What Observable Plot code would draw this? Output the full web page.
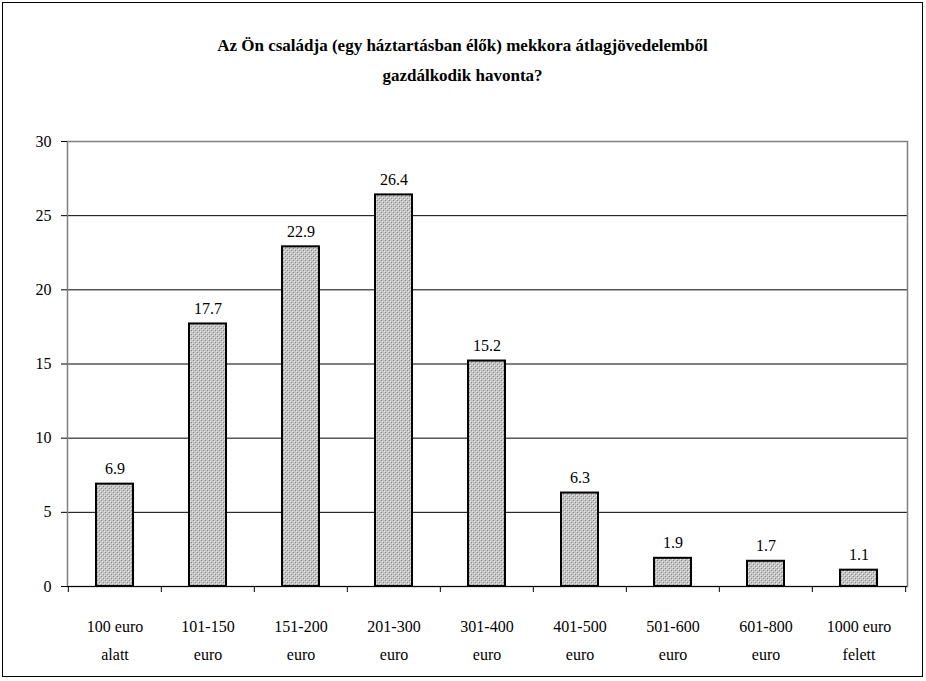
<!DOCTYPE html>
<html>
<head>
<meta charset="utf-8">
<script src="https://cdn.jsdelivr.net/npm/d3@7"></script>
<script src="https://cdn.jsdelivr.net/npm/@observablehq/plot@0.6"></script>
</head>
<body style="margin:0;padding:0;background:#fff;font-family:'Liberation Serif'">
<div id="frame" style="position:absolute;left:2px;top:2px;width:919px;height:673px;border:1px solid #000;font-family:'Liberation Serif'">
  <div id="title" style="position:absolute;left:0;top:28px;width:919px;text-align:center;font-weight:bold;font-size:17px;line-height:30px;font-family:'Liberation Serif'">Az Ön családja (egy háztartásban élők) mekkora átlagjövedelemből<br>gazdálkodik havonta?</div>
  <div id="chart" style="position:absolute;left:0;top:107px"></div>
</div>
<script>
const categories = ["100 euro alatt", "101-150 euro", "151-200 euro", "201-300 euro", "301-400 euro", "401-500 euro", "501-600 euro", "601-800 euro", "1000 euro felett"];
const tickLabels = ["100 euro\nalatt", "101-150\neuro", "151-200\neuro", "201-300\neuro", "301-400\neuro", "401-500\neuro", "501-600\neuro", "601-800\neuro", "1000 euro\nfelett"];
const values = [6.9, 17.7, 22.9, 26.4, 15.2, 6.3, 1.9, 1.7, 1.1];
const yTicks = [0, 5, 10, 15, 20, 25, 30];

const data = categories.map((c, i) => ({category: c, value: values[i], label: tickLabels[i]}));
const labelOf = new Map(data.map(d => [d.category, d.label]));

const W = 919, H = 566;
const mL = 64, mR = 15, mT = 31, mB = 90;
const step = (W - mL - mR) / categories.length;
const serif = "Liberation Serif";

const chart = Plot.plot({
  width: W,
  height: H,
  marginLeft: mL,
  marginRight: mR,
  marginTop: mT,
  marginBottom: mB,
  style: {fontFamily: serif, fontSize: "16px", background: "transparent", color: "#000"},
  x: {type: "band", domain: categories, paddingInner: 0.6, paddingOuter: 0.3, label: null},
  y: {domain: [0, 30], label: null},
  marks: [
    Plot.gridY(yTicks.filter(t => t > 0 && t < 30), {stroke: "#000", strokeOpacity: 1}),
    Plot.frame({stroke: "#808080", strokeWidth: 1.5}),
    Plot.barY(data, {x: "category", y: "value", fill: "url(#dots)", stroke: "#000", strokeWidth: 2}),
    Plot.text(data, {x: "category", y: "value", text: d => d.value.toFixed(1), dy: -10, lineAnchor: "bottom", fontSize: 16, fontFamily: serif}),
    Plot.ruleY([0], {stroke: "#000", strokeWidth: 1.2}),
    Plot.ruleX(categories, {x: d => d, y1: 0, y2: 0, dx: -step / 2, insetBottom: -6, stroke: "#000"}),
    Plot.ruleX(categories.slice(-1), {x: d => d, y1: 0, y2: 0, dx: step / 2, insetBottom: -6, stroke: "#000"}),
    Plot.axisY(yTicks, {tickSize: 6, tickPadding: 10, fontSize: 16, fontFamily: serif, stroke: "#000"}),
    Plot.axisX({tickSize: 0, tickPadding: 26, lineHeight: 1.75, fontSize: 16, fontFamily: serif, tickFormat: d => labelOf.get(d)})
  ]
});
// hatch pattern for the bars
const defs = d3.select(chart).insert("defs", ":first-child");
const pat = defs.append("pattern").attr("id", "dots").attr("width", 4).attr("height", 4).attr("patternUnits", "userSpaceOnUse");
pat.append("rect").attr("width", 4).attr("height", 4).attr("fill", "#c4c4c4");
[[0,0,"#8a8a8a"],[2,2,"#8a8a8a"],[1,1,"#ececec"],[3,3,"#ececec"]].forEach(([px,py,c]) =>
  pat.append("rect").attr("x", px).attr("y", py).attr("width", 1).attr("height", 1).attr("fill", c));
document.getElementById("chart").appendChild(chart);
</script>
</body>
</html>
